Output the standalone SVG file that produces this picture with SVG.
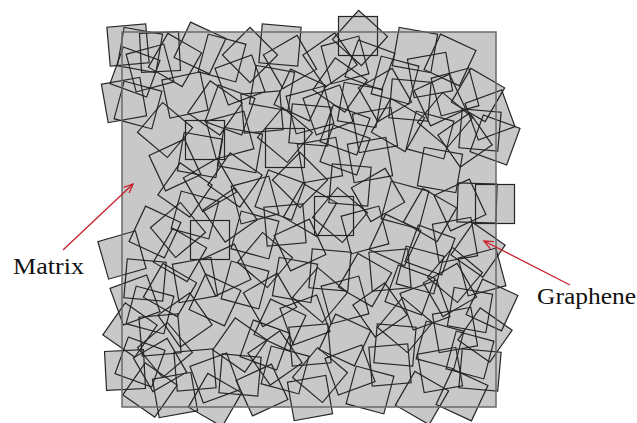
<svg xmlns="http://www.w3.org/2000/svg" xmlns:xlink="http://www.w3.org/1999/xlink" width="637" height="423" viewBox="0 0 637 423">
<style>
.lbl{font-family:"Liberation Serif","DejaVu Serif",serif;font-size:24px;fill:#111}
.arr{stroke:#c8202a;stroke-width:1.3;fill:none}
</style>
<defs>
<rect id="q" x="-19.5" y="-19.5" width="39" height="39"/>
<marker id="ah" markerWidth="12" markerHeight="10" refX="10" refY="5" orient="auto" markerUnits="userSpaceOnUse">
<path d="M1,1 L10,5 L1,9" fill="none" stroke="#c8202a" stroke-width="1.3"/>
</marker>
<g id="sq">
<use href="#q" transform="translate(128,45) rotate(-5)"/>
<use href="#q" transform="translate(140,50) rotate(10)"/>
<use href="#q" transform="translate(160,52) rotate(-3)"/>
<use href="#q" transform="translate(135,72) rotate(20)"/>
<use href="#q" transform="translate(150,68) rotate(-15)"/>
<use href="#q" transform="translate(124,100) rotate(-10)"/>
<use href="#q" transform="translate(138,105) rotate(15)"/>
<use href="#q" transform="translate(175,60) rotate(30)"/>
<use href="#q" transform="translate(185,95) rotate(-12)"/>
<use href="#q" transform="translate(165,130) rotate(40)"/>
<use href="#q" transform="translate(222,58) rotate(15)"/>
<use href="#q" transform="translate(250,55) rotate(45)"/>
<use href="#q" transform="translate(240,80) rotate(-20)"/>
<use href="#q" transform="translate(272,88) rotate(10)"/>
<use href="#q" transform="translate(290,62) rotate(-30)"/>
<use href="#q" transform="translate(300,95) rotate(25)"/>
<use href="#q" transform="translate(262,112) rotate(-5)"/>
<use href="#q" transform="translate(215,108) rotate(35)"/>
<use href="#q" transform="translate(230,135) rotate(-15)"/>
<use href="#q" transform="translate(310,125) rotate(5)"/>
<use href="#q" transform="translate(285,135) rotate(40)"/>
<use href="#q" transform="translate(205,140) rotate(0)"/>
<use href="#q" transform="translate(358,36) rotate(0)"/>
<use href="#q" transform="translate(360,38) rotate(42)"/>
<use href="#q" transform="translate(345,60) rotate(-15)"/>
<use href="#q" transform="translate(370,65) rotate(20)"/>
<use href="#q" transform="translate(340,85) rotate(35)"/>
<use href="#q" transform="translate(328,110) rotate(-20)"/>
<use href="#q" transform="translate(360,105) rotate(10)"/>
<use href="#q" transform="translate(385,95) rotate(-30)"/>
<use href="#q" transform="translate(395,80) rotate(15)"/>
<use href="#q" transform="translate(410,100) rotate(5)"/>
<use href="#q" transform="translate(398,125) rotate(30)"/>
<use href="#q" transform="translate(375,130) rotate(-10)"/>
<use href="#q" transform="translate(345,130) rotate(20)"/>
<use href="#q" transform="translate(450,60) rotate(25)"/>
<use href="#q" transform="translate(455,92) rotate(-15)"/>
<use href="#q" transform="translate(478,95) rotate(30)"/>
<use href="#q" transform="translate(490,115) rotate(-20)"/>
<use href="#q" transform="translate(445,120) rotate(40)"/>
<use href="#q" transform="translate(480,130) rotate(5)"/>
<use href="#q" transform="translate(465,140) rotate(-35)"/>
<use href="#q" transform="translate(430,135) rotate(15)"/>
<use href="#q" transform="translate(495,140) rotate(20)"/>
<use href="#q" transform="translate(430,75) rotate(-10)"/>
<use href="#q" transform="translate(175,165) rotate(-25)"/>
<use href="#q" transform="translate(200,155) rotate(10)"/>
<use href="#q" transform="translate(185,190) rotate(35)"/>
<use href="#q" transform="translate(210,185) rotate(-30)"/>
<use href="#q" transform="translate(155,232) rotate(25)"/>
<use href="#q" transform="translate(178,230) rotate(-40)"/>
<use href="#q" transform="translate(122,255) rotate(-16)"/>
<use href="#q" transform="translate(195,215) rotate(15)"/>
<use href="#q" transform="translate(210,240) rotate(0)"/>
<use href="#q" transform="translate(180,255) rotate(30)"/>
<use href="#q" transform="translate(240,150) rotate(10)"/>
<use href="#q" transform="translate(285,148) rotate(0)"/>
<use href="#q" transform="translate(235,180) rotate(35)"/>
<use href="#q" transform="translate(255,200) rotate(-15)"/>
<use href="#q" transform="translate(280,195) rotate(20)"/>
<use href="#q" transform="translate(300,180) rotate(45)"/>
<use href="#q" transform="translate(320,160) rotate(-10)"/>
<use href="#q" transform="translate(310,210) rotate(30)"/>
<use href="#q" transform="translate(285,225) rotate(-5)"/>
<use href="#q" transform="translate(255,235) rotate(15)"/>
<use href="#q" transform="translate(230,215) rotate(-35)"/>
<use href="#q" transform="translate(334,216) rotate(0)"/>
<use href="#q" transform="translate(265,260) rotate(40)"/>
<use href="#q" transform="translate(300,245) rotate(-25)"/>
<use href="#q" transform="translate(345,150) rotate(20)"/>
<use href="#q" transform="translate(370,160) rotate(-10)"/>
<use href="#q" transform="translate(350,185) rotate(5)"/>
<use href="#q" transform="translate(378,195) rotate(-30)"/>
<use href="#q" transform="translate(405,205) rotate(15)"/>
<use href="#q" transform="translate(340,215) rotate(40)"/>
<use href="#q" transform="translate(365,230) rotate(-15)"/>
<use href="#q" transform="translate(395,240) rotate(25)"/>
<use href="#q" transform="translate(440,170) rotate(10)"/>
<use href="#q" transform="translate(477,203) rotate(2)"/>
<use href="#q" transform="translate(495,204) rotate(0)"/>
<use href="#q" transform="translate(460,205) rotate(-25)"/>
<use href="#q" transform="translate(430,215) rotate(30)"/>
<use href="#q" transform="translate(478,250) rotate(35)"/>
<use href="#q" transform="translate(455,240) rotate(-10)"/>
<use href="#q" transform="translate(430,250) rotate(20)"/>
<use href="#q" transform="translate(482,272) rotate(-15)"/>
<use href="#q" transform="translate(135,300) rotate(-20)"/>
<use href="#q" transform="translate(150,310) rotate(15)"/>
<use href="#q" transform="translate(170,290) rotate(30)"/>
<use href="#q" transform="translate(195,280) rotate(-10)"/>
<use href="#q" transform="translate(215,300) rotate(25)"/>
<use href="#q" transform="translate(130,330) rotate(35)"/>
<use href="#q" transform="translate(160,335) rotate(-5)"/>
<use href="#q" transform="translate(185,320) rotate(-35)"/>
<use href="#q" transform="translate(145,280) rotate(5)"/>
<use href="#q" transform="translate(225,270) rotate(-25)"/>
<use href="#q" transform="translate(245,285) rotate(15)"/>
<use href="#q" transform="translate(270,300) rotate(-30)"/>
<use href="#q" transform="translate(295,280) rotate(10)"/>
<use href="#q" transform="translate(320,295) rotate(40)"/>
<use href="#q" transform="translate(280,325) rotate(25)"/>
<use href="#q" transform="translate(305,320) rotate(-20)"/>
<use href="#q" transform="translate(330,270) rotate(5)"/>
<use href="#q" transform="translate(240,345) rotate(35)"/>
<use href="#q" transform="translate(310,345) rotate(-5)"/>
<use href="#q" transform="translate(265,345) rotate(20)"/>
<use href="#q" transform="translate(345,300) rotate(-15)"/>
<use href="#q" transform="translate(365,280) rotate(30)"/>
<use href="#q" transform="translate(390,270) rotate(-5)"/>
<use href="#q" transform="translate(410,290) rotate(20)"/>
<use href="#q" transform="translate(380,310) rotate(-35)"/>
<use href="#q" transform="translate(405,325) rotate(40)"/>
<use href="#q" transform="translate(425,305) rotate(-20)"/>
<use href="#q" transform="translate(345,340) rotate(25)"/>
<use href="#q" transform="translate(395,345) rotate(5)"/>
<use href="#q" transform="translate(420,270) rotate(15)"/>
<use href="#q" transform="translate(450,290) rotate(-30)"/>
<use href="#q" transform="translate(470,310) rotate(10)"/>
<use href="#q" transform="translate(492,305) rotate(25)"/>
<use href="#q" transform="translate(455,330) rotate(-10)"/>
<use href="#q" transform="translate(485,335) rotate(35)"/>
<use href="#q" transform="translate(440,345) rotate(15)"/>
<use href="#q" transform="translate(125,370) rotate(-3)"/>
<use href="#q" transform="translate(140,362) rotate(20)"/>
<use href="#q" transform="translate(160,365) rotate(-30)"/>
<use href="#q" transform="translate(175,395) rotate(-10)"/>
<use href="#q" transform="translate(195,370) rotate(-5)"/>
<use href="#q" transform="translate(150,390) rotate(35)"/>
<use href="#q" transform="translate(215,378) rotate(-20)"/>
<use href="#q" transform="translate(215,400) rotate(30)"/>
<use href="#q" transform="translate(240,375) rotate(5)"/>
<use href="#q" transform="translate(262,390) rotate(-25)"/>
<use href="#q" transform="translate(285,370) rotate(15)"/>
<use href="#q" transform="translate(310,398) rotate(-10)"/>
<use href="#q" transform="translate(320,375) rotate(40)"/>
<use href="#q" transform="translate(275,358) rotate(-35)"/>
<use href="#q" transform="translate(350,370) rotate(-20)"/>
<use href="#q" transform="translate(370,390) rotate(15)"/>
<use href="#q" transform="translate(390,365) rotate(-5)"/>
<use href="#q" transform="translate(422,398) rotate(30)"/>
<use href="#q" transform="translate(440,370) rotate(-10)"/>
<use href="#q" transform="translate(462,395) rotate(25)"/>
<use href="#q" transform="translate(480,370) rotate(5)"/>
<use href="#q" transform="translate(470,355) rotate(15)"/>
<use href="#q" transform="translate(230,110) rotate(20)"/>
<use href="#q" transform="translate(330,60) rotate(-35)"/>
<use href="#q" transform="translate(415,50) rotate(10)"/>
<use href="#q" transform="translate(455,275) rotate(40)"/>
<use href="#q" transform="translate(165,350) rotate(-40)"/>
<use href="#q" transform="translate(310,110) rotate(-15)"/>
<use href="#q" transform="translate(200,48) rotate(25)"/>
<use href="#q" transform="translate(440,100) rotate(-25)"/>
<use href="#q" transform="translate(280,45) rotate(5)"/>
</g>
</defs>
<rect width="637" height="423" fill="#ffffff"/>
<g id="fills">
<use href="#sq" fill="#c8c8c8" stroke="none"/>
<rect x="122" y="32" width="374" height="375" fill="#c8c8c8"/>
</g>
<g id="graphene">
<use href="#sq" fill="none" stroke="#262626" stroke-width="1.2"/>
</g>
<g id="matrix">
<rect x="122" y="32" width="374" height="375" fill="none" stroke="#6a6a6a" stroke-width="1.5"/>
</g>
<g id="connectors">
<line class="arr" x1="63" y1="250" x2="133" y2="184" marker-end="url(#ah)"/>
<line class="arr" x1="570" y1="285" x2="484" y2="241" marker-end="url(#ah)"/>
</g>
<g id="labels">
<text class="lbl" x="13" y="274" textLength="71" lengthAdjust="spacingAndGlyphs">Matrix</text>
<text class="lbl" x="537" y="304" textLength="99" lengthAdjust="spacingAndGlyphs">Graphene</text>
</g>
</svg>
